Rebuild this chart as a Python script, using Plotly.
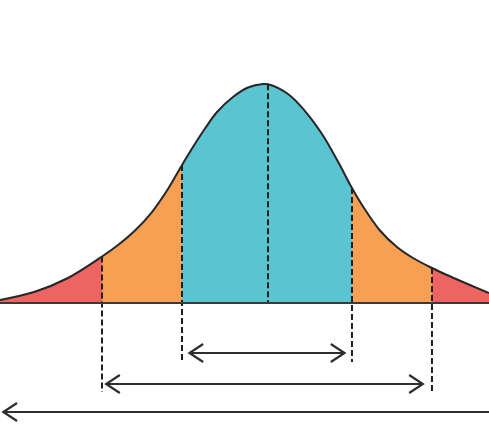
import plotly.graph_objects as go

# ---- data ----
# x in standard-deviation units (0 = mean), y = density
curve_x = [-3.229, -2.819, -2.410, -2.000, -1.807, -1.602, -1.398, -1.205, -1.036,
           -0.904, -0.759, -0.614, -0.422, -0.241, -0.060, 0.000, 0.241, 0.446,
           0.651, 0.843, 1.012, 1.145, 1.349, 1.554, 1.747, 1.976, 2.157, 2.349, 2.663]
curve_y = [0.0055, 0.0200, 0.0456, 0.0847, 0.1057, 0.1321, 0.1658, 0.2077, 0.2514,
           0.2842, 0.3179, 0.3480, 0.3753, 0.3926, 0.3990, 0.3985, 0.3808, 0.3498,
           0.3079, 0.2578, 0.2095, 0.1758, 0.1321, 0.1020, 0.0820, 0.0638, 0.0510,
           0.0383, 0.0182]
boundaries = [-2.000, -1.036, 0.000, 1.012, 1.976]
region_colors = ["#EE6461", "#F7A053", "#5BC4D1", "#5BC4D1", "#F7A053", "#EE6461"]

# ---- styling / layout constants ----
X_RANGE = [-3.229, 2.663]
Y_RANGE = [-0.2423, 0.5521]
INK = "#1f1f1f"
DASH_BOTTOM = [-0.1622, -0.1075, 0.0, -0.1075, -0.1622]
HEAD_LEN = 0.165
HEAD_HALF = 0.0164

fig = go.Figure()

# filled regions between boundaries
edges = [curve_x[0]] + boundaries + [curve_x[-1]]
for i in range(len(edges) - 1):
    lo, hi = edges[i], edges[i + 1]
    xs = [x for x in curve_x if lo <= x <= hi]
    ys = [curve_y[curve_x.index(x)] for x in xs]
    fig.add_trace(go.Scatter(x=xs, y=ys, mode="lines", fill="tozeroy",
                             fillcolor=region_colors[i],
                             line=dict(width=0, shape="spline", color=region_colors[i]),
                             hoverinfo="skip"))

# dashed verticals
for b, bottom in zip(boundaries, DASH_BOTTOM):
    top = curve_y[curve_x.index(b)]
    fig.add_trace(go.Scatter(x=[b, b], y=[top, bottom], mode="lines",
                             line=dict(color=INK, width=2, dash="6px,3px"),
                             hoverinfo="skip"))

# curve outline
fig.add_trace(go.Scatter(x=curve_x, y=curve_y, mode="lines",
                         line=dict(color="#262626", width=2, shape="spline"),
                         hoverinfo="skip"))

# baseline
fig.add_shape(type="line", xref="paper", x0=0, x1=1, yref="y", y0=0, y1=0,
              line=dict(color="#3a3a3a", width=2))


def arrow(x0, x1, y, left_head=True, right_head=True):
    fig.add_trace(go.Scatter(x=[x0, x1], y=[y, y], mode="lines",
                             line=dict(color="#2e2e2e", width=2.2), hoverinfo="skip"))
    if left_head:
        fig.add_trace(go.Scatter(x=[x0 + HEAD_LEN, x0, x0 + HEAD_LEN],
                                 y=[y + HEAD_HALF, y, y - HEAD_HALF], mode="lines",
                                 line=dict(color="#2e2e2e", width=2.2), hoverinfo="skip"))
    if right_head:
        fig.add_trace(go.Scatter(x=[x1 - HEAD_LEN, x1, x1 - HEAD_LEN],
                                 y=[y + HEAD_HALF, y, y - HEAD_HALF], mode="lines",
                                 line=dict(color="#2e2e2e", width=2.2), hoverinfo="skip"))


arrow(boundaries[1] + 0.09, boundaries[3] - 0.09, -0.0911)
arrow(boundaries[0] + 0.05, boundaries[4] - 0.11, -0.1476)
arrow(X_RANGE[0] + 0.04, X_RANGE[1] + 0.2, -0.1986, right_head=False)

fig.update_layout(
    width=489, height=436,
    margin=dict(l=0, r=0, t=0, b=0),
    paper_bgcolor="white", plot_bgcolor="white",
    showlegend=False,
    xaxis=dict(range=X_RANGE, visible=False, fixedrange=True),
    yaxis=dict(range=Y_RANGE, visible=False, fixedrange=True),
)

fig.write_html("out.html", config={"displayModeBar": False},
               post_script="document.body.style.margin='0';document.body.style.padding='0';")
